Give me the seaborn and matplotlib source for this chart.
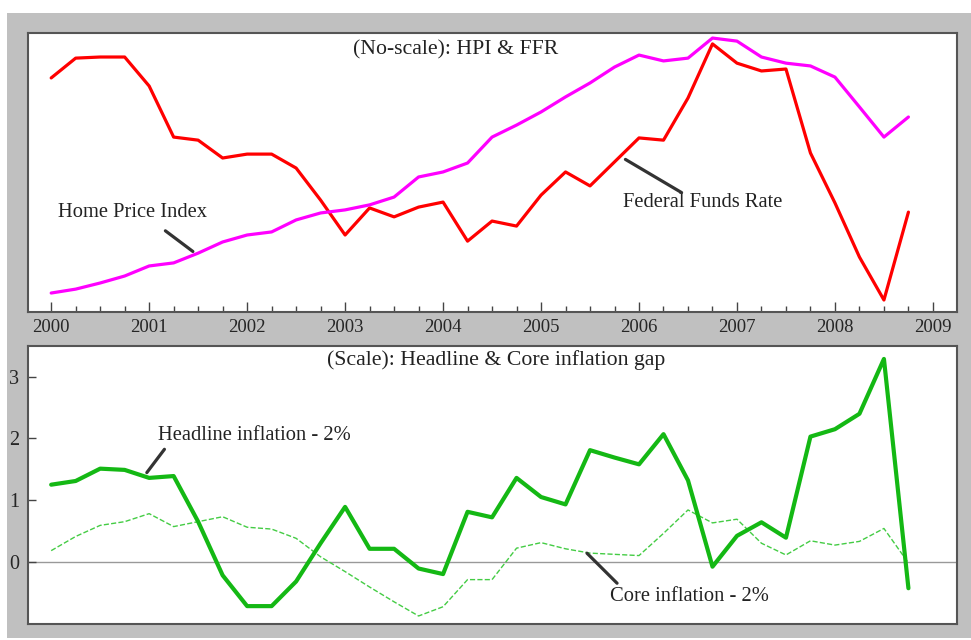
import numpy as np
import pandas as pd
import matplotlib
matplotlib.use("Agg")
import matplotlib.pyplot as plt
from matplotlib.patches import Rectangle
from matplotlib.ticker import MultipleLocator
import seaborn as sns

# quarterly observations, 2000Q1 .. 2008Q4
quarters = np.arange(2000, 2009, 0.25)

# top panel: no scale, both series rescaled to 0-100
ffr = [83.9, 91.0, 91.4, 91.4, 81.0, 62.7, 61.6, 55.2, 56.6, 56.6, 51.6, 40.1,
       27.6, 37.3, 34.1, 37.6, 39.4, 25.4, 32.6, 30.8, 41.9, 50.2, 45.2, 53.8,
       62.4, 61.6, 76.7, 96.1, 89.2, 86.4, 87.1, 57.0, 39.1, 19.7, 4.3, 35.8]
hpi = [6.8, 8.2, 10.4, 12.9, 16.5, 17.6, 21.1, 25.1, 27.6, 28.7, 33.0, 35.5,
       36.6, 38.4, 41.2, 48.4, 50.2, 53.4, 62.7, 67.0, 71.7, 77.1, 82.1, 87.8,
       92.1, 90.0, 91.0, 98.2, 97.1, 91.4, 89.2, 88.2, 84.2, 73.5, 62.7, 69.9]

# bottom panel: inflation minus 2% target
headline = [1.25, 1.31, 1.51, 1.49, 1.36, 1.39, 0.65, -0.22, -0.72, -0.72, -0.32, 0.30,
            0.89, 0.21, 0.21, -0.11, -0.20, 0.81, 0.72, 1.36, 1.05, 0.93, 1.81, 1.69,
            1.58, 2.07, 1.32, -0.08, 0.42, 0.64, 0.39, 2.03, 2.15, 2.40, 3.29, -0.43]
core = [0.18, 0.41, 0.59, 0.65, 0.78, 0.57, 0.65, 0.73, 0.56, 0.53, 0.38, 0.08,
        -0.16, -0.41, -0.65, -0.88, -0.73, -0.29, -0.29, 0.22, 0.31, 0.21, 0.14, 0.12,
        0.10, 0.46, 0.84, 0.63, 0.69, 0.30, 0.11, 0.34, 0.27, 0.33, 0.54, -0.02]

year_ticks = list(range(2000, 2010))

df = pd.DataFrame({"t": quarters, "ffr": ffr, "hpi": hpi,
                   "headline": headline, "core": core})

sns.set_style("white")
plt.rcParams["font.family"] = ["Liberation Serif", "DejaVu Serif"]

fig = plt.figure(figsize=(9.71, 6.4), dpi=100, facecolor="white")
fig.patches.append(Rectangle((7 / 971, 2 / 640), 964 / 971, 625 / 640,
                             transform=fig.transFigure, facecolor="#c0c0c0",
                             edgecolor="none", zorder=-10))

ax1 = fig.add_axes([0.0285, 0.5125, 0.957, 0.4359])
ax2 = fig.add_axes([0.0285, 0.025, 0.957, 0.4344])

# --- top panel
sns.lineplot(data=df, x="t", y="ffr", ax=ax1, color="#ff0000", lw=2.3)
sns.lineplot(data=df, x="t", y="hpi", ax=ax1, color="#ff00ff", lw=2.3)
ax1.set_xlim(1999.76, 2009.245)
ax1.set_ylim(0, 100)
ax1.set_xticks(year_ticks)
ax1.set_xticklabels([str(y) for y in year_ticks], fontsize=13.5)
ax1.xaxis.set_minor_locator(MultipleLocator(0.25))
ax1.tick_params(axis="x", which="major", direction="in", length=7, width=1,
                color="#444444", pad=5, bottom=True)
ax1.tick_params(axis="x", which="minor", direction="in", length=4, width=1,
                color="#444444", bottom=True)
ax1.set_yticks([])
ax1.set_xlabel("")
ax1.set_ylabel("")
ax1.text(0.46, 0.94, "(No-scale): HPI & FFR", transform=ax1.transAxes,
         ha="center", va="center", fontsize=15.7, color="#222222")

ax1.text(2000.071, 35.5, "Home Price Index", ha="left", va="center",
         fontsize=14.8, color="#222222")
ax1.annotate("", xy=(2001.469, 21.1), xytext=(2001.143, 29.7),
             arrowprops=dict(arrowstyle="-", color="#333333", lw=2.3))
ax1.text(2005.837, 39.4, "Federal Funds Rate", ha="left", va="center",
         fontsize=14.8, color="#222222")
ax1.annotate("", xy=(2005.837, 55.2), xytext=(2006.459, 42.3),
             arrowprops=dict(arrowstyle="-", color="#333333", lw=2.3))

# --- bottom panel
ax2.axhline(0, color="#999999", lw=1, zorder=0)
sns.lineplot(data=df, x="t", y="core", ax=ax2, color="#44cc44", lw=1,
             dashes=(12, 6), linestyle="--")
sns.lineplot(data=df, x="t", y="headline", ax=ax2, color="#14b814", lw=3)
ax2.set_xlim(1999.76, 2009.245)
ax2.set_ylim(-1.01, 3.5)
ax2.set_xticks([])
ax2.set_yticks([0, 1, 2, 3])
ax2.set_yticklabels(["0", "1", "2", "3"], fontsize=14.5)
ax2.tick_params(axis="y", direction="in", length=6, width=1, color="#444444",
                pad=6, left=True)
ax2.set_xlabel("")
ax2.set_ylabel("")
ax2.text(0.504, 0.95, "(Scale): Headline & Core inflation gap",
         transform=ax2.transAxes, ha="center", va="center", fontsize=15.7,
         color="#222222")

ax2.text(2001.092, 2.04, "Headline inflation - 2%", ha="left", va="center",
         fontsize=14.8, color="#222222")
ax2.annotate("", xy=(2000.959, 1.41), xytext=(2001.173, 1.86),
             arrowprops=dict(arrowstyle="-", color="#333333", lw=2.3))
ax2.text(2005.704, -0.56, "Core inflation - 2%", ha="left", va="center",
         fontsize=14.8, color="#222222")
ax2.annotate("", xy=(2005.449, 0.17), xytext=(2005.796, -0.38),
             arrowprops=dict(arrowstyle="-", color="#333333", lw=2.3))

for ax in (ax1, ax2):
    for sp in ax.spines.values():
        sp.set_color("#555555")
        sp.set_linewidth(1.5)
    ax.set_facecolor("white")

fig.savefig("out.png", dpi=100, facecolor="white")
